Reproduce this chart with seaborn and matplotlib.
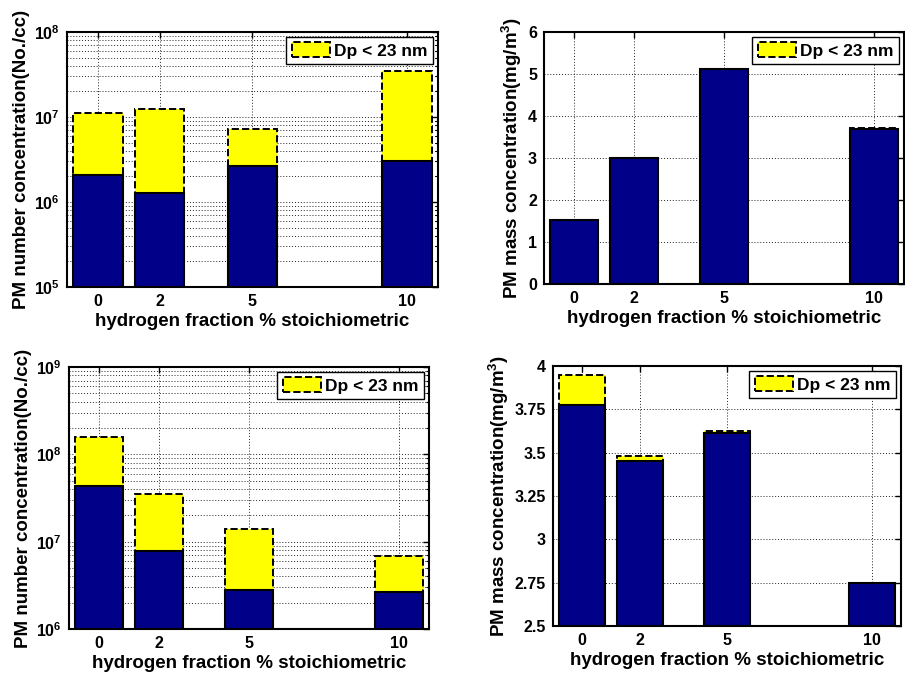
import math
import matplotlib
matplotlib.use("Agg")
import matplotlib.pyplot as plt
import matplotlib.ticker as mticker
from matplotlib.patches import Patch
import seaborn as sns

# hydrogen fraction (% stoichiometric) for each operating point
h2_fraction = [0, 2, 5, 10]
x_ticks = [0, 2, 5, 10]
legend_label = "Dp < 23 nm"
x_label = "hydrogen fraction % stoichiometric"
num_label = "PM number concentration(No./cc)"
mass_label = "PM mass concentration(mg/m$^{\\mathbf{3}}$)"

# upper row: total concentration and the part from particles larger than 23 nm
num_a_total = [1.10e7, 1.24e7, 7.2e6, 3.5e7]
num_a_large = [2.10e6, 1.28e6, 2.65e6, 3.0e6]
mass_a_total = [1.52, 3.00, 5.12, 3.72]
mass_a_large = [1.52, 3.00, 5.12, 3.70]

# lower row
num_b_total = [1.57e8, 3.55e7, 1.41e7, 6.85e6]
num_b_large = [4.30e7, 7.80e6, 2.77e6, 2.65e6]
mass_b_total = [3.948, 3.483, 3.625, 2.75]
mass_b_large = [3.773, 3.452, 3.612, 2.75]

mass_a_ticks = [0, 1, 2, 3, 4, 5, 6]
mass_a_tick_labels = ["0", "1", "2", "3", "4", "5", "6"]
mass_b_ticks = [2.5, 2.75, 3, 3.25, 3.5, 3.75, 4]
mass_b_tick_labels = ["2.5", "2.75", "3", "3.25", "3.5", "3.75", "4"]

sns.set_theme(style="white")
plt.rcParams["font.family"] = ["Liberation Sans", "DejaVu Sans"]
plt.rcParams["font.weight"] = "bold"
plt.rcParams["mathtext.fontset"] = "custom"
plt.rcParams["mathtext.rm"] = "Liberation Sans"
plt.rcParams["mathtext.bf"] = "Liberation Sans:bold"
plt.rcParams["axes.labelweight"] = "bold"
plt.rcParams["text.color"] = "black"
plt.rcParams["axes.labelcolor"] = "black"
plt.rcParams["xtick.color"] = "black"
plt.rcParams["ytick.color"] = "black"

NAVY = "#000088"
YELLOW = "#ffff00"
GRID = "#222222"
TICK_FS = 11.5
LABEL_FS = 13.5
LEGEND_FS = 12.5
W, H = 905, 680

fig = plt.figure(figsize=(W / 100, H / 100), dpi=100)
fig.patch.set_facecolor("white")


def make_axes(left, right, top, bottom):
    return fig.add_axes([left / W, 1 - bottom / H, (right - left) / W, (bottom - top) / H])


def log_label(v, pos):
    return r"$\mathbf{10}^{%d}$" % round(math.log10(v))


def draw_panel(ax, total, large, log, ylim, ylabel, yticks=None, ytick_labels=None):
    # total height drawn first (dashed yellow), the >23 nm part drawn over it
    sns.barplot(x=h2_fraction, y=total, native_scale=True, width=0.8, color=YELLOW,
                saturation=1, edgecolor="black", linewidth=1.4, linestyle="--",
                errorbar=None, ax=ax)
    sns.barplot(x=h2_fraction, y=large, native_scale=True, width=0.8, color=NAVY,
                saturation=1, edgecolor="black", linewidth=1.5,
                errorbar=None, ax=ax)
    if log:
        ax.set_yscale("log")
        ax.yaxis.set_major_locator(mticker.LogLocator(base=10, numticks=20))
        ax.yaxis.set_major_formatter(mticker.FuncFormatter(log_label))
        ax.yaxis.set_minor_locator(mticker.LogLocator(base=10, subs=range(2, 10), numticks=20))
        ax.yaxis.set_minor_formatter(mticker.NullFormatter())
        ax.grid(True, which="minor", axis="y", color=GRID, linestyle=(0, (1, 2)), linewidth=0.7)
    else:
        ax.set_yticks(yticks)
        ax.set_yticklabels(ytick_labels)
    ax.set_ylim(*ylim)
    ax.set_xlim(-1, 11)
    ax.set_xticks(x_ticks)
    ax.set_xticklabels([str(t) for t in x_ticks])
    ax.grid(True, which="major", color=GRID, linestyle=(0, (1, 2)), linewidth=0.7)
    ax.set_axisbelow(True)
    for s in ax.spines.values():
        s.set_visible(True)
        s.set_color("black")
        s.set_linewidth(1.5)
    ax.tick_params(which="both", direction="in", top=True, right=True, colors="black",
                   labelcolor="black", labelsize=TICK_FS, pad=5)
    ax.tick_params(which="major", length=4, width=1)
    ax.tick_params(which="minor", length=2, width=0.8)
    for lbl in ax.get_xticklabels() + ax.get_yticklabels():
        lbl.set_fontweight("bold")
        lbl.set_color("black")
    ax.set_xlabel(x_label, fontsize=LABEL_FS, fontweight="bold", color="black", labelpad=3)
    ax.set_ylabel(ylabel, fontsize=LABEL_FS, fontweight="bold", color="black", labelpad=3)
    handle = Patch(facecolor=YELLOW, edgecolor="black", linestyle="--", linewidth=1.4)
    leg = ax.legend([handle], [legend_label], loc="upper right",
                    prop={"weight": "bold", "size": LEGEND_FS}, frameon=True, fancybox=False,
                    framealpha=1, edgecolor="black", borderaxespad=0.3, borderpad=0.3,
                    handlelength=2.2, handleheight=0.95, handletextpad=0.25)
    leg.get_frame().set_linewidth(1.0)
    for t in leg.get_texts():
        t.set_color("black")


ax_tl = make_axes(67, 438, 32, 287)
draw_panel(ax_tl, num_a_total, num_a_large, True, (1e5, 1e8), num_label)

ax_tr = make_axes(544, 904, 32, 284)
draw_panel(ax_tr, mass_a_total, mass_a_large, False, (0, 6), mass_label,
           yticks=mass_a_ticks, ytick_labels=mass_a_tick_labels)

ax_bl = make_axes(69, 429, 367, 629)
draw_panel(ax_bl, num_b_total, num_b_large, True, (1e6, 1e9), num_label)

ax_br = make_axes(553, 901, 366, 626)
draw_panel(ax_br, mass_b_total, mass_b_large, False, (2.5, 4.0), mass_label,
           yticks=mass_b_ticks, ytick_labels=mass_b_tick_labels)

fig.savefig("out.png", dpi=100, facecolor="white")
